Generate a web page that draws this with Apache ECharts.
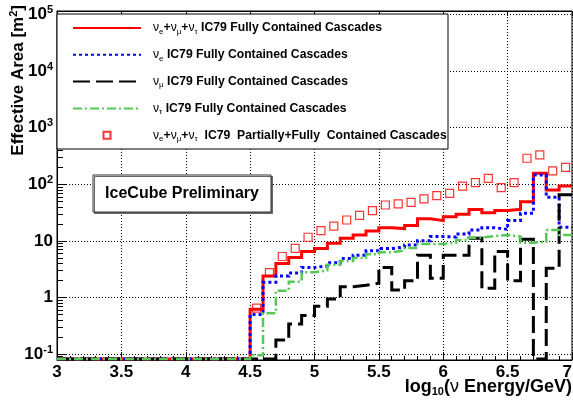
<!DOCTYPE html>
<html><head><meta charset="utf-8">
<script src="https://cdn.jsdelivr.net/npm/echarts@6/dist/echarts.min.js"></script>
<style>html,body{margin:0;padding:0;background:#fff}#c{width:573px;height:400px}</style>
</head><body><div id="c"></div>
<script>
// Bin edges of log10(E/GeV)
const binEdges = [3.0,3.1,3.2,3.3,3.4,3.5,3.6,3.7,3.8,3.9,4.0,4.1,4.2,4.3,4.4,4.5,4.6,4.7,4.8,4.9,
  5.0,5.1,5.2,5.3,5.4,5.5,5.6,5.7,5.8,5.9,6.0,6.1,6.2,6.3,6.4,6.5,6.6,6.7,6.8,6.9,7.0];
// Effective area [m^2] per bin (0 = empty bin)
const allFlavours = [0,0,0,0,0,0,0,0,0,0,0,0,0,0,0,
  0.62,2.4,4.0,5.1,6.5,7.3,9.1,11.1,12.7,15,17.1,16.5,18.7,24.5,22.8,26.8,29.5,36,31.5,34.5,36.1,49.3,156,79,93];
const nuE = [0,0,0,0,0,0,0,0,0,0,0,0,0,0,0,
  0.50,1.85,2.4,2.7,3.4,3.6,4.1,4.9,5.6,6.7,7.3,7.8,8.5,10.1,11.9,11.7,13.2,15.6,17.1,16,22.8,30.7,146,59,17.4];
const nuMu = [0,0,0,0,0,0,0,0,0,0,0,0,0,0,0,
  0,0,0.177,0.34,0.48,0.70,0.94,1.55,1.65,1.78,3.4,1.35,1.98,5.6,2.18,5.6,5.6,11.1,1.45,6.5,1.98,10.7,0,3.3,65];
const nuTau = [0,0,0,0,0,0,0,0,0,0,0,0,0,0,0,
  0.095,0.525,1.32,1.9,2.8,3.0,3.8,4.4,5.0,5.8,6.3,6.8,7.5,8.8,8.8,9.3,10.4,11.4,12.2,12.7,11.9,9.3,9.7,15.6,12.7];
const partialFull = [0,0,0,0,0,0,0,0,0,0,0,0,0,0,0,
  0.65,2.75,5.3,7.4,11.6,15.2,18.3,23.4,28.3,34.2,43,44.9,48,55,63,69,93,107,127,87,107,288,330,172,199];
const seriesNames = [
  'νe+νμ+ντ IC79 Fully Contained Cascades',
  'νe IC79 Fully Contained Cascades',
  'νμ IC79 Fully Contained Cascades',
  'ντ IC79 Fully Contained Cascades',
  'νe+νμ+ντ  IC79  Partially+Fully  Contained Cascades'
];
const legendRich = {};
legendRich[seriesNames[0]] = '{n|ν}{s|e}+{n|ν}{s|μ}+{n|ν}{s|τ} IC79 Fully Contained Cascades';
legendRich[seriesNames[1]] = '{n|ν}{s|e} IC79 Fully Contained Cascades';
legendRich[seriesNames[2]] = '{n|ν}{s|μ} IC79 Fully Contained Cascades';
legendRich[seriesNames[3]] = '{n|ν}{s|τ} IC79 Fully Contained Cascades';
legendRich[seriesNames[4]] = '{n|ν}{s|e}+{n|ν}{s|μ}+{n|ν}{s|τ}  IC79  Partially+Fully  Contained Cascades';

const FONT = 'Liberation Sans, Arial, Helvetica, sans-serif';
const Y_MIN = 0.0787, Y_MAX = 115000, FLOOR = 0.082;

function histPoints(vals) {
  const pts = binEdges.map((e, i) => [e, i < vals.length ? vals[i] : vals[vals.length - 1]]);
  return pts.map(p => [p[0], p[1] > 0 ? p[1] : FLOOR]);
}
function centerPoints(vals) {
  const out = [];
  vals.forEach((v, i) => { if (v > 0) out.push([(binEdges[i] + binEdges[i + 1]) / 2, v]); });
  return out;
}
function lineSeries(name, vals, color, width, dash) {
  return {
    name: name, type: 'line', step: 'end', symbol: 'none', showSymbol: false,
    data: histPoints(vals), xAxisIndex: 0, yAxisIndex: 0,
    lineStyle: { color: color, width: width, type: dash, cap: 'butt', join: 'miter' },
    itemStyle: { color: color }, z: 2
  };
}

const chart = echarts.init(document.getElementById('c'), null, { renderer: 'canvas' });
const labelRich = {
  b: { fontSize: 17, fontWeight: 'bold', fontFamily: FONT, color: '#000' },
  sup: { fontSize: 11, fontWeight: 'bold', fontFamily: FONT, color: '#000', padding: [0, 0, 9, 0] }
};
const legendData = seriesNames.map((n, i) => i < 4
  ? { name: n, itemStyle: { opacity: 0 } }
  : { name: n, icon: 'path://M0,0L10,0L10,10L0,10Z' });
chart.setOption({
  animation: false,
  backgroundColor: '#fff',
  grid: { left: 57, right: 1, top: 11, bottom: 40, containLabel: false, outerBoundsMode: 'none',
    show: true, borderColor: '#000', borderWidth: 1, backgroundColor: 'transparent' },
  xAxis: [{
    type: 'value', min: 3, max: 7, interval: 0.5, position: 'bottom',
    axisLine: { show: true, onZero: false, lineStyle: { color: '#000', width: 1 } },
    axisTick: { show: true, inside: true, length: 8, lineStyle: { color: '#000' } },
    minorTick: { show: true, splitNumber: 5, length: 4, lineStyle: { color: '#000' } },
    axisLabel: { show: true, margin: 4, color: '#000', fontSize: 17, fontWeight: 'bold', fontFamily: FONT,
      alignMaxLabel: 'right', formatter: v => String(v) },
    splitLine: { show: true, lineStyle: { color: '#000', width: 1, type: [1, 2] } },
    minorSplitLine: { show: false }
  }, {
    type: 'value', min: 3, max: 7, interval: 0.5, position: 'top',
    axisLine: { show: true, onZero: false, lineStyle: { color: '#000' } },
    axisTick: { show: true, inside: true, length: 5, lineStyle: { color: '#000' } },
    axisLabel: { show: false }, splitLine: { show: false }
  }],
  yAxis: [{
    type: 'log', logBase: 10, min: Y_MIN, max: Y_MAX,
    axisLine: { show: true, onZero: false, lineStyle: { color: '#000', width: 1 } },
    axisTick: { show: true, inside: true, length: 10, lineStyle: { color: '#000' } },
    minorTick: { show: true, splitNumber: 9, length: 6, lineStyle: { color: '#000' } },
    axisLabel: { show: true, margin: 4, color: '#000', fontSize: 17, fontWeight: 'bold', fontFamily: FONT,
      showMinLabel: false, showMaxLabel: false, rich: labelRich,
      formatter: function (v) {
        const e = Math.round(Math.log10(v));
        if (e === 0) return '{b|1}';
        if (e === 1) return '{b|10}';
        return '{b|10}{sup|' + e + '}';
      } },
    splitLine: { show: true, lineStyle: { color: '#000', width: 1, type: [1, 2] } }
  }],
  legend: {
    show: true, orient: 'vertical', left: 72, top: 20, padding: 0,
    itemWidth: 68, itemHeight: 7, itemGap: 10.8, selectedMode: false, symbolKeepAspect: true,
    data: legendData, z: 5,
    formatter: name => legendRich[name],
    textStyle: { color: '#000', fontSize: 12.2, fontWeight: 'bold', fontFamily: FONT, lineHeight: 16,
      padding: [0, 0, 0, 7],
      rich: {
        n: { fontSize: 12.2, fontWeight: 'normal', fontFamily: FONT, color: '#000', lineHeight: 16 },
        s: { fontSize: 8, fontWeight: 'normal', fontFamily: FONT, color: '#000', lineHeight: 8, padding: [7, 0, 0, 0] }
      } }
  },
  graphic: [
    { type: 'rect', z: 3, shape: { x: 57, y: 14, width: 391, height: 135 },
      style: { fill: '#fff', stroke: '#000', lineWidth: 1 } },
    { type: 'rect', z: 3, shape: { x: 93, y: 175, width: 178, height: 37 },
      style: { fill: '#fff', stroke: '#333', lineWidth: 1, shadowColor: '#666', shadowOffsetX: 1.5, shadowOffsetY: 1.5, shadowBlur: 0 } },
    { type: 'text', z: 4, x: 182, y: 194,
      style: { text: 'IceCube Preliminary', font: 'bold 16px ' + FONT, fill: '#000', align: 'center', verticalAlign: 'middle' } },
    { type: 'text', z: 4, x: 18, y: 5, rotation: Math.PI / 2,
      style: { text: '{b|Effective Area [m}{sup|2}{b|]}', align: 'right', verticalAlign: 'middle',
        rich: {
          b: { fontSize: 17, fontWeight: 'bold', fontFamily: FONT, fill: '#000', lineHeight: 20 },
          sup: { fontSize: 11, fontWeight: 'bold', fontFamily: FONT, fill: '#000', lineHeight: 11, padding: [0, 0, 9, 0] }
        } } },
    { type: 'text', z: 4, x: 572, y: 377,
      style: { text: '{b|log}{s|10}{b|(}{n|ν}{b| Energy/GeV)}', align: 'right', verticalAlign: 'top',
        rich: {
          b: { fontSize: 18, fontWeight: 'bold', fontFamily: FONT, fill: '#000', lineHeight: 20 },
          n: { fontSize: 18, fontWeight: 'normal', fontFamily: FONT, fill: '#000', lineHeight: 20 },
          s: { fontSize: 11, fontWeight: 'bold', fontFamily: FONT, fill: '#000', lineHeight: 11, padding: [10, 0, 0, 0] }
        } } }
  ],
  series: [
    lineSeries(seriesNames[0], allFlavours, '#ff0000', 3, 'solid'),
    lineSeries(seriesNames[1], nuE, '#0000ff', 3, [3, 3]),
    lineSeries(seriesNames[2], nuMu, '#000000', 3, [17, 6]),
    lineSeries(seriesNames[3], nuTau, '#55c855', 2.5, [9, 3, 2, 3]),
    {
      name: seriesNames[4], type: 'scatter', symbol: 'rect', symbolSize: 8,
      data: centerPoints(partialFull), z: 2,
      itemStyle: { color: 'rgba(0,0,0,0)', borderColor: '#ff0000', borderWidth: 1.2 }
    }
  ]
});
</script></body></html>
